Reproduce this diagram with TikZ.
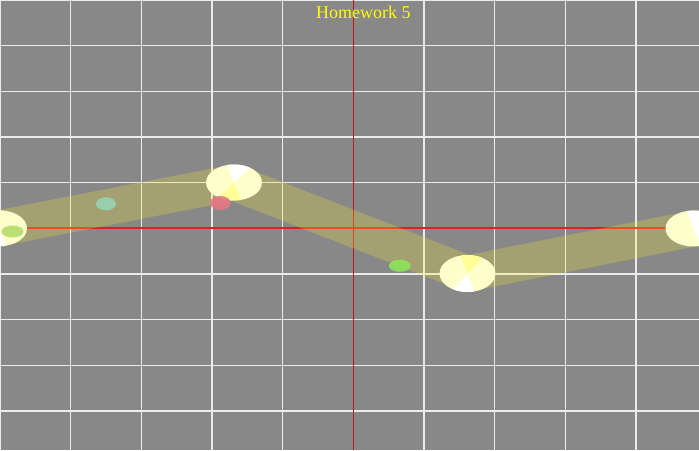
\documentclass[tikz,border=0pt]{standalone}
\usepackage{fontspec}
\setmainfont{Liberation Serif}
\definecolor{bggray}{RGB}{136,136,136}
\definecolor{gridc}{RGB}{235,235,235}
\definecolor{axisc}{RGB}{225,30,30}
\definecolor{vaxisc}{RGB}{190,25,25}
\definecolor{bandc}{RGB}{255,240,40}
\definecolor{discc}{RGB}{255,255,204}
\definecolor{brightc}{RGB}{255,255,150}
\definecolor{dotA}{RGB}{180,220,105}
\definecolor{dotB}{RGB}{150,212,180}
\definecolor{dotC}{RGB}{228,120,130}
\definecolor{dotD}{RGB}{140,228,90}
\definecolor{titlec}{RGB}{255,255,0}
\begin{document}
\begin{tikzpicture}[x=1pt,y=1pt,
  gridline/.style={draw=gridc, line width=1.3pt},
  bandline/.style={draw=bandc, draw opacity=0.24, line width=36pt, line join=round},
  disc/.style={fill=discc},
  brightwedge/.style={fill=brightc},
  whitewedge/.style={fill=white},
  dot/.style={fill opacity=0.9}
]
\useasboundingbox (0,0) rectangle (699,450);
\fill[bggray] (0,0) rectangle (699,450);
% grid
\foreach \k in {0,1,2,3,4,6,7,8,9} {
  \draw[gridline] (70.67*\k,0) -- (70.67*\k,450);
  \draw[gridline] (0,450-45.67*\k) -- (699,450-45.67*\k);
}
\draw[gridline] (0,450-45.67*5) -- (699,450-45.67*5);
% axes
\draw[draw=vaxisc, line width=1.3pt] (353.3,0) -- (353.3,450);
\draw[draw=axisc, line width=2pt] (0,221.7) -- (699,221.7);
% band
\coordinate (c0) at (-1,221.7);
\coordinate (c1) at (234,267.5);
\coordinate (c2) at (467.5,176.5);
\coordinate (c3) at (693.5,221.5);
\draw[bandline] (c0) -- (c1) -- (c2) -- (c3);
% discs
\fill[disc] (c0) ellipse[x radius=28, y radius=18];
\fill[whitewedge] (c0) -- ++(235:28 and 18) arc[start angle=235, end angle=284, x radius=28, y radius=18] -- cycle;
\fill[disc] (c1) ellipse[x radius=28, y radius=18];
\fill[whitewedge] (c1) -- ++(55:28 and 18) arc[start angle=55, end angle=104, x radius=28, y radius=18] -- cycle;
\fill[brightwedge] (c1) -- ++(236:28 and 18) arc[start angle=236, end angle=284, x radius=28, y radius=18] -- cycle;
\fill[disc] (c2) ellipse[x radius=28, y radius=18.5];
\fill[brightwedge] (c2) -- ++(58:28 and 18.5) arc[start angle=58, end angle=104, x radius=28, y radius=18.5] -- cycle;
\fill[whitewedge] (c2) -- ++(240:28 and 18.5) arc[start angle=240, end angle=284, x radius=28, y radius=18.5] -- cycle;
\fill[disc] (c3) ellipse[x radius=28, y radius=18];
\fill[whitewedge] (c3) -- ++(-76:28 and 18) arc[start angle=-76, end angle=104, x radius=28, y radius=18] -- cycle;
% dots
\fill[dot, dotA] (12.5,218.5) ellipse[x radius=11, y radius=6];
\fill[dot, dotB] (106,246.2) ellipse[x radius=10, y radius=6.5];
\fill[dot, dotC] (220.3,247) ellipse[x radius=10.3, y radius=7];
\fill[dot, dotD] (399.8,184.2) ellipse[x radius=11, y radius=6];
% title
\node[anchor=base, text=titlec, font=\fontsize{18}{20}\selectfont, inner sep=0pt] (title) at (363.3,431.7) {Homework 5};
\end{tikzpicture}
\end{document}
